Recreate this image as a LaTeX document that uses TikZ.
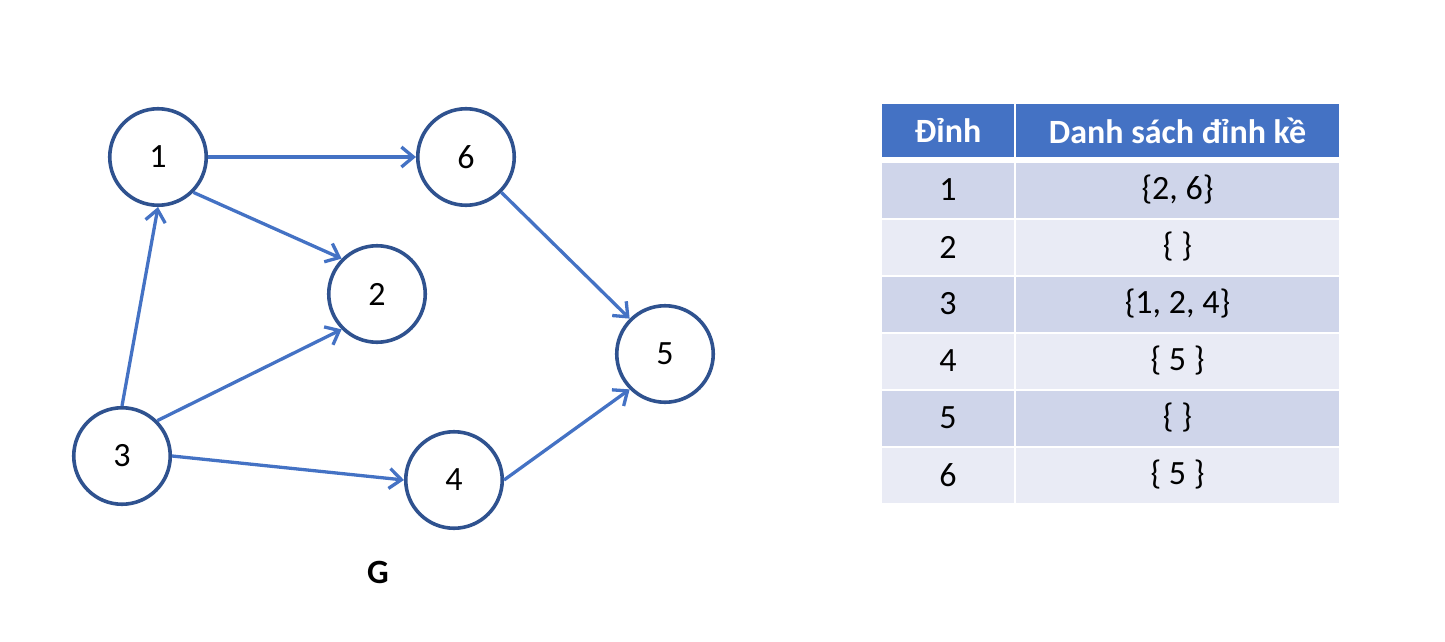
\documentclass[tikz,border=0pt]{standalone}
\usepackage{fontspec}
\setmainfont{Carlito}
\usetikzlibrary{arrows.meta}
\definecolor{eblue}{HTML}{4472C4}
\definecolor{nblue}{HTML}{2F528F}
\definecolor{rowdark}{HTML}{CFD5EA}
\definecolor{rowlight}{HTML}{E9EBF5}
\tikzset{vertex/.style = {circle, draw=nblue, line width=3.6pt, minimum size=96.5pt,
                          inner sep=0pt, font=\fontsize{34}{40}\selectfont},
         edge/.style = {eblue, line width=3.3pt,
                        -{Straight Barb[length=12pt, width=20pt]}},
         cell/.style = {rectangle, inner sep=0pt, outer sep=0pt, minimum height=55pt,
                        font=\fontsize{34}{40}\selectfont},
         keycell/.style = {cell, minimum width=132pt},
         listcell/.style = {cell, minimum width=323pt},
         headcell/.style = {fill=eblue, text=white, font=\fontsize{34}{40}\selectfont\bfseries,
                            minimum height=53pt}}

\begin{document}
\begin{tikzpicture}[x=1pt, y=-1pt]
    \useasboundingbox (0, 0) rectangle (1445, 642);

    % graph G
    \node [vertex] (v1) at (158, 157) {1};
    \node [vertex] (v2) at (377, 294) {2};
    \node [vertex] (v3) at (122, 456) {3};
    \node [vertex] (v4) at (454, 480) {4};
    \node [vertex] (v5) at (665, 354) {5};
    \node [vertex] (v6) at (466, 157) {6};

    \draw [edge] (v1.east) -- (v6.west);
    \draw [edge] (v1.south east) -- (v2.north west);
    \draw [edge] (v3.north) -- (v1.south);
    \draw [edge] (v3.north east) -- (v2.south west);
    \draw [edge] (v3.east) -- (v4.west);
    \draw [edge] (v6.south east) -- (v5.north west);
    \draw [edge] (v4.east) -- (v5.south west);

    \node [font=\fontsize{34}{40}\selectfont\bfseries] (gname) at (378, 572) {G};

    % adjacency table
    \node [keycell, headcell] (hkey) at (948, 130.5) {Đỉnh};
    \node [listcell, headcell] (hlist) at (1177.5, 130.5) {Danh sách đỉnh kề};

    \node [keycell, fill=rowdark] (k1) at (948, 190) {1};
    \node [listcell, fill=rowdark] (l1) at (1177.5, 190) {\{2, 6\}};
    \node [keycell, fill=rowlight] (k2) at (948, 247) {2};
    \node [listcell, fill=rowlight] (l2) at (1177.5, 247) {\{ \}};
    \node [keycell, fill=rowdark] (k3) at (948, 304) {3};
    \node [listcell, fill=rowdark] (l3) at (1177.5, 304) {\{1, 2, 4\}};
    \node [keycell, fill=rowlight] (k4) at (948, 361) {4};
    \node [listcell, fill=rowlight] (l4) at (1177.5, 361) {\{ 5 \}};
    \node [keycell, fill=rowdark] (k5) at (948, 418) {5};
    \node [listcell, fill=rowdark] (l5) at (1177.5, 418) {\{ \}};
    \node [keycell, fill=rowlight] (k6) at (948, 475) {6};
    \node [listcell, fill=rowlight] (l6) at (1177.5, 475) {\{ 5 \}};
\end{tikzpicture}
\end{document}
